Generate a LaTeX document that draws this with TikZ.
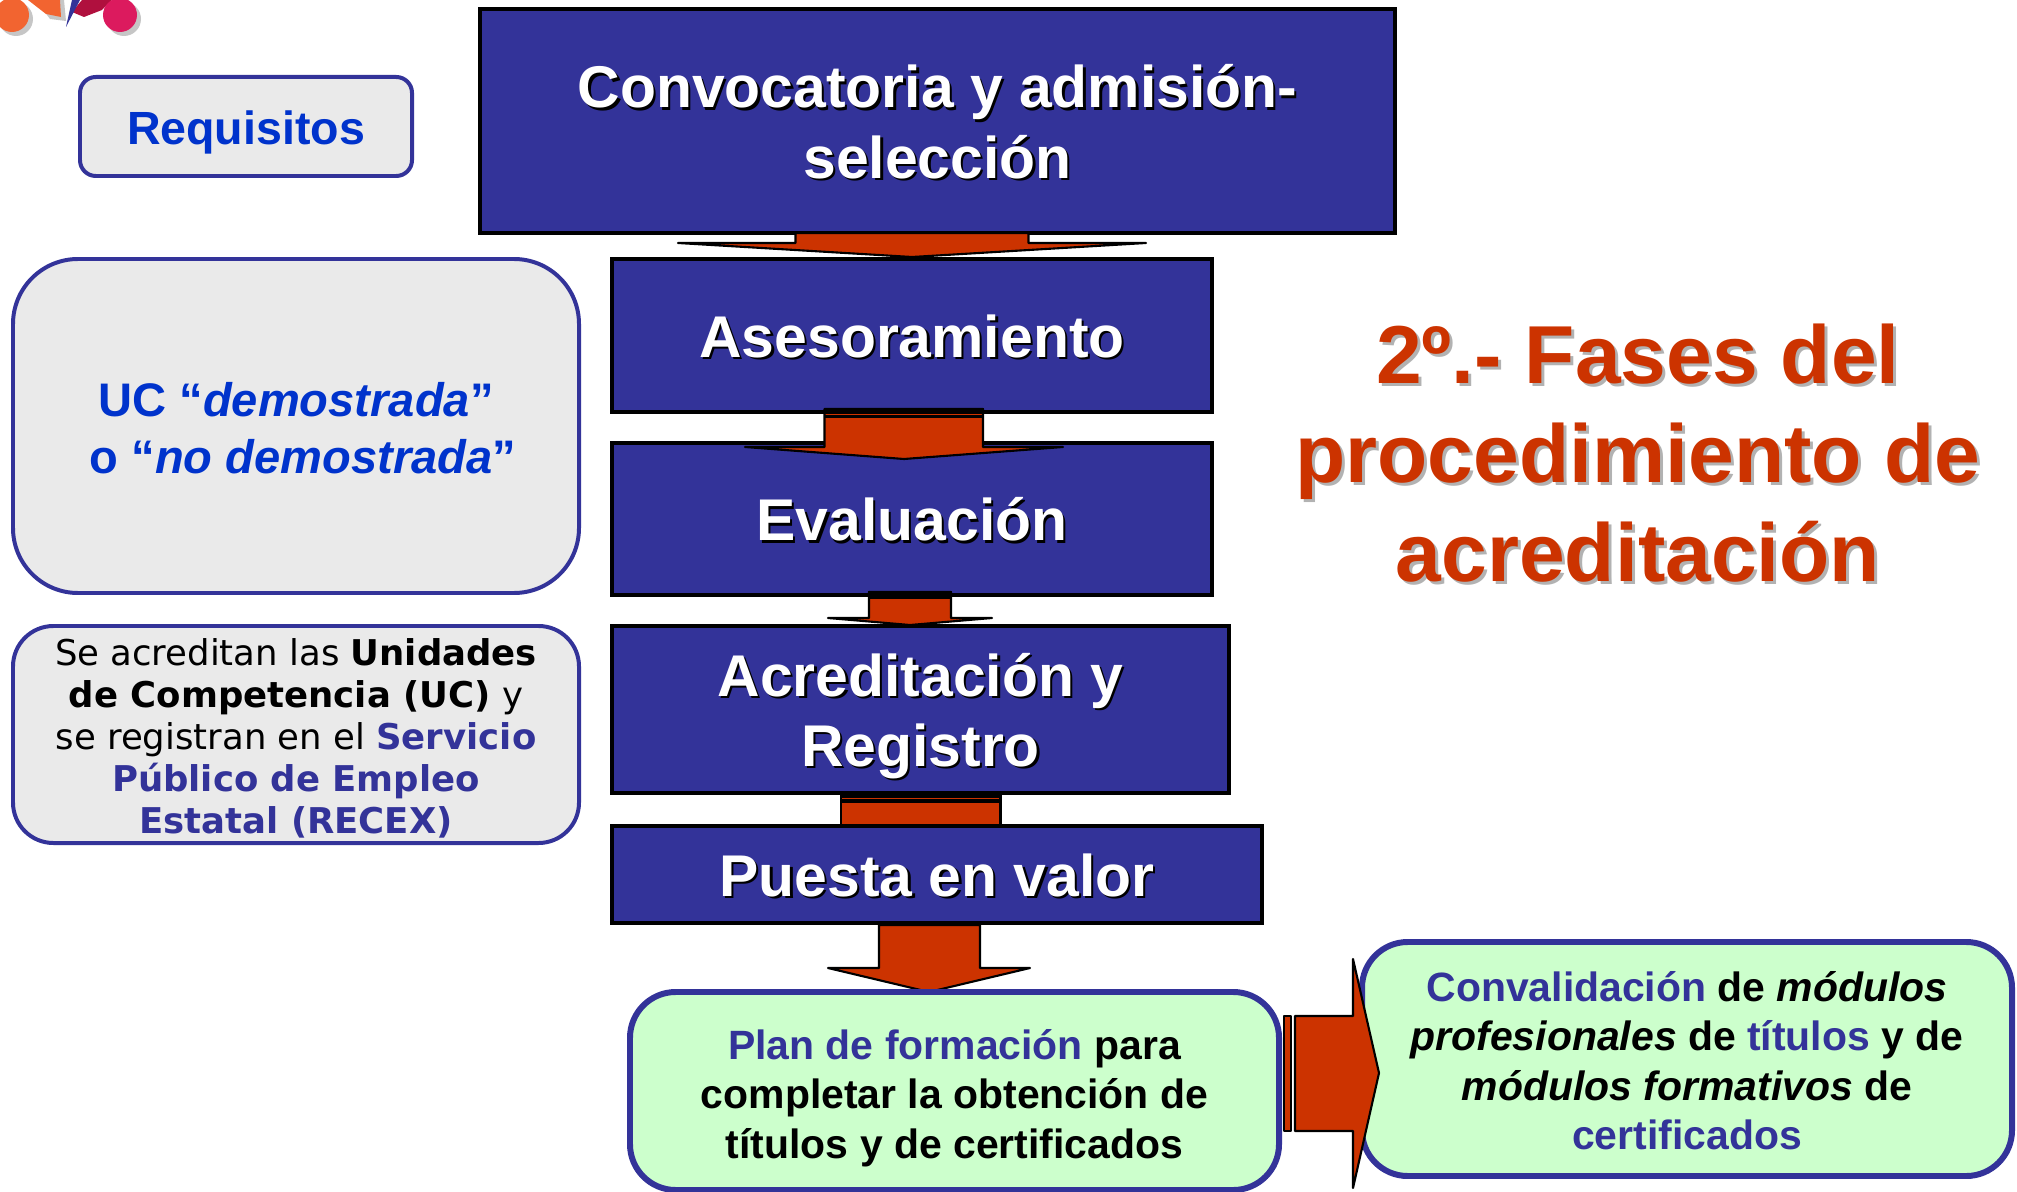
\documentclass[tikz,border=0pt]{standalone}
\usepackage{fontspec}
\setmainfont{Liberation Sans}
\newfontfamily\verdfont{DejaVu Sans}
\definecolor{navy}{HTML}{333399}
\definecolor{rust}{HTML}{CC3300}
\definecolor{lightgray}{HTML}{EAEAEA}
\definecolor{mint}{HTML}{CCFFCC}
\definecolor{royal}{HTML}{0033CC}
\definecolor{titleshadow}{HTML}{B2B2B2}
\definecolor{logoorange}{HTML}{F26430}
\definecolor{logopink}{HTML}{DC1A5E}
\definecolor{logored}{HTML}{B0103E}
\pgfdeclarelayer{layera}
\pgfdeclarelayer{layerb}
\pgfdeclarelayer{layerc}
\pgfdeclarelayer{layerd}
\pgfsetlayers{layera,layerb,layerc,layerd,main}
\newcommand\tabtext[1]{\begin{tabular}[c]{@{}c@{}}#1\end{tabular}}
% #1 vertical tweak (pt), #2 text
\newcommand\plaintext[2]{\raisebox{#1pt}[0pt][0pt]{\tabtext{#2}}}
% #1 tweak, #2 shadow colour, #3 text colour, #4 offset(pt), #5 text
\newcommand\shadowtext[5]{\raisebox{#1pt}[0pt][0pt]{\makebox[0pt][l]{\hspace{#4pt}\raisebox{-#4pt}{\color{#2}\tabtext{#5}}}{\color{#3}\tabtext{#5}}}}
\newcommand\placebox[6]{\node[#2,minimum width={(#5-#3)*0.02cm},minimum height={(#6-#4)*0.02cm}] (#1) at ({(#3+#5)/2},{(#4+#6)/2})}
\tikzset{
  x=0.02cm,y=-0.02cm,
  anybox/.style={inner sep=0pt,outer sep=0pt,align=center},
  phasebox/.style={anybox,draw=black,fill=navy,line width=2.27pt,font=\fontsize{33.5}{40}\selectfont\bfseries},
  sidebox/.style={anybox,draw=navy,fill=lightgray,line width=2.27pt,rounded corners=#1},
  sidebox/.default=9pt,
  greenbox/.style={anybox,draw=navy,fill=mint,line width=3.4pt,rounded corners=26pt,font=\fontsize{23.3}{28.2}\selectfont\bfseries},
  blockarrow/.style={draw=black,fill=rust,line width=1.2pt,line join=round},
  titlestyle/.style={anybox,font=\fontsize{46.8}{56.4}\selectfont\bfseries},
}
\begin{document}
\begin{tikzpicture}
\useasboundingbox (0,0) rectangle (2017,1192);
\begin{pgfonlayer}{layera}
\fill[white] (0,0) rectangle (2017,1192);
\fill[gray!45] (16,19) circle (17);
\fill[gray!45] (124,19) circle (17);
\fill[gray!45] (36,0) -- (64,0) -- (66,21) -- (50,19) -- cycle;
\fill[logoorange] (12,15) circle (17);
\fill[logoorange] (28,0) -- (60,0) -- (61,17) -- (46,14) -- cycle;
\fill[logored] (72,12) -- (82,0) -- (112,0) -- (102,10) -- (84,17) -- cycle;
\fill[navy] (72,0) -- (80,0) -- (66,27) -- cycle;
\fill[logopink] (120,15) circle (17);
\placebox{conv}{phasebox}{480}{9}{1395}{233}{\shadowtext{-10.7}{black}{white}{1.3}{Convocatoria y admisión-\\selección}};
\placebox{ases}{phasebox}{612}{259}{1212}{412}{\shadowtext{-10.7}{black}{white}{1.3}{Asesoramiento}};
\placebox{eval}{phasebox}{612}{443}{1212}{595}{\shadowtext{-10.7}{black}{white}{1.3}{Evaluación}};
\placebox{acre}{phasebox}{612}{626}{1229}{793}{\shadowtext{-10.7}{black}{white}{1.3}{Acreditación y\\Registro}};
\end{pgfonlayer}
\begin{pgfonlayer}{layerc}
\placebox{puesta}{phasebox}{612}{826}{1262}{923}{\shadowtext{-10.7}{black}{white}{1.3}{Puesta en valor}};
\end{pgfonlayer}
% side boxes
\placebox{req}{sidebox=9pt,font=\fontsize{26.5}{32}\selectfont\bfseries}{80}{77}{412}{176}{\plaintext{-9.8}{\textcolor{royal}{Requisitos}}};
\placebox{uc}{sidebox=37pt,font=\fontsize{26.8}{32.3}\selectfont\bfseries}{13}{259}{579}{593}{\plaintext{-10.4}{\textcolor{royal}{UC “\textit{demostrada}”}\\\hspace*{8pt}\textcolor{royal}{o “\textit{no demostrada}”}}};
\placebox{unidades}{sidebox=23pt,font=\verdfont\fontsize{20.2}{24}\selectfont}{13}{626}{579}{843}{\plaintext{-8.9}{Se acreditan las \textbf{Unidades}\\\textbf{de Competencia (UC)} y\\se registran en el \textcolor{navy}{\textbf{Servicio}}\\\textcolor{navy}{\textbf{Público de Empleo}}\\\textcolor{navy}{\textbf{Estatal (RECEX)}}}};
\placebox{plan}{greenbox}{630}{992}{1279}{1190}{\plaintext{-10.7}{\textcolor{navy}{Plan de formación} para\\completar la obtención de\\títulos y de certificados}};
\placebox{conval}{greenbox}{1362}{942}{2012}{1176}{\plaintext{-10}{\textcolor{navy}{Convalidación} de \textit{módulos}\\\textit{profesionales} de \textcolor{navy}{títulos} y de\\\textit{módulos formativos} de\\\textcolor{navy}{certificados}}};
% arrows between phases
\begin{pgfonlayer}{layerb}
\draw[blockarrow] ([shift={(-142,0)}]conv.south) -- ++(0,10) -- ++(-117.5,0) -- ([shift={(0,-2)}]ases.north) -- ++(234,-14) -- ++(-117.5,0) -- ++(0,-10) -- cycle;
\draw[blockarrow] ([shift={(-87.5,-3)}]ases.south) -- ++(0,38) -- ++(-79.5,0) -- ([shift={(-8,16)}]eval.north) -- ++(159,-12) -- ++(-80,0) -- ++(0,-38) -- cycle;
\fill[black] ([shift={(-88.5,-4)}]ases.south) rectangle ++(160,6);
\fill[black] ([shift={(-88.5,3.5)}]ases.south) rectangle ++(160,3);
\draw[blockarrow] ([shift={(-43,-3)}]eval.south) -- ++(0,26) -- ++(-41,0) -- ([shift={(-10.5,-1)}]acre.north) -- ++(82,-7) -- ++(-41,0) -- ++(0,-26) -- cycle;
\fill[black] ([shift={(-44,-4)}]eval.south) rectangle ++(84,8);
\draw[blockarrow] ([shift={(-79.5,2)}]acre.south) -- ([shift={(-96,10)}]puesta.north) -- ++(159.5,0) -- ([shift={(80,2)}]acre.south) -- cycle;
\fill[black] ([shift={(-80.5,1)}]acre.south) rectangle ++(161,3.5);
\fill[black] ([shift={(-80.5,6)}]acre.south) rectangle ++(161,3.5);
\end{pgfonlayer}
\begin{pgfonlayer}{layerd}
\draw[blockarrow] ([shift={(-58,2)}]puesta.south) -- ++(0,43) -- ++(-51,0) -- ([shift={(-25.5,0)}]plan.north) -- ++(101,-24) -- ++(-50,0) -- ++(0,-43) -- cycle;
\end{pgfonlayer}
\draw[blockarrow] ([shift={(5,-75)}]plan.east) rectangle ++(7,115);
\draw[blockarrow] ([shift={(16,-75)}]plan.east) -- ++(58,0) -- ++(0,-57) -- ([shift={(17,14)}]conval.west) -- ++(-26,115) -- ++(0,-57) -- ++(-58,0) -- cycle;
% title
\node[titlestyle] (title) at (1638,483) {\shadowtext{5.5}{titleshadow}{rust}{1.7}{2º.- Fases del\\procedimiento de\\acreditación}};
\end{tikzpicture}
\end{document}
